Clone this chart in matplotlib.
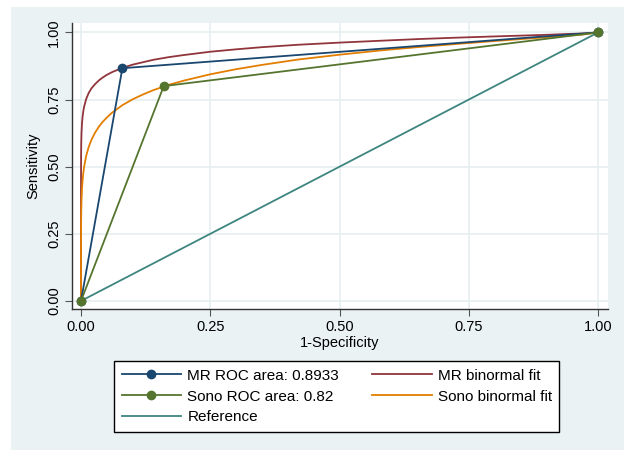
import matplotlib
matplotlib.use("Agg")
import matplotlib.pyplot as plt
from matplotlib.patches import Rectangle

plt.rcParams["font.family"] = ["Liberation Sans", "DejaVu Sans"]
plt.rcParams["font.size"] = 10

# empirical ROC points (1-specificity, sensitivity)
mr_fpr = [0.0, 0.08, 1.0]
mr_tpr = [0.0, 0.8667, 1.0]
sono_fpr = [0.0, 0.16, 1.0]
sono_tpr = [0.0, 0.80, 1.0]

# binormal fitted curves
fit_x = [0.0, 1e-7, 1e-5, 0.0002, 0.0005, 0.001, 0.002, 0.003, 0.0045, 0.006, 0.01,
         0.015, 0.02, 0.027, 0.035, 0.042, 0.05, 0.06, 0.08, 0.1, 0.12, 0.14, 0.17,
         0.2, 0.25, 0.3, 0.35, 0.42, 0.5, 0.58, 0.65, 0.72, 0.8, 0.85, 0.9, 0.94,
         0.97, 1.0]
mr_fit_y = [0.0, 0.25, 0.407, 0.543, 0.589, 0.626, 0.663, 0.685, 0.707, 0.723, 0.752,
            0.775, 0.791, 0.807, 0.822, 0.832, 0.842, 0.852, 0.868, 0.880, 0.889, 0.898,
            0.908, 0.916, 0.928, 0.937, 0.945, 0.954, 0.962, 0.969, 0.975, 0.980, 0.985,
            0.988, 0.991, 0.994, 0.996, 1.0]
sono_fit_y = [0.0, 0.069, 0.166, 0.285, 0.333, 0.374, 0.419, 0.447, 0.477, 0.499, 0.540,
              0.574, 0.599, 0.626, 0.650, 0.667, 0.683, 0.701, 0.729, 0.751, 0.769, 0.785,
              0.805, 0.821, 0.844, 0.863, 0.879, 0.899, 0.917, 0.933, 0.945, 0.956, 0.968,
              0.975, 0.982, 0.988, 0.992, 1.0]

ref_x = [0.0, 1.0]
ref_y = [0.0, 1.0]

ticks = [0.0, 0.25, 0.5, 0.75, 1.0]
tick_labels = ["0.00", "0.25", "0.50", "0.75", "1.00"]

navy = "#1A476F"
maroon = "#90353B"
green = "#55752F"
orange = "#E37E00"
teal = "#3E8580"
panel = "#EAF2F3"

fig = plt.figure(figsize=(6.24, 4.5), dpi=100)
fig.patches.append(Rectangle((11 / 624, 0), 1, 1 - 7 / 450, transform=fig.transFigure,
                             facecolor=panel, edgecolor="none", zorder=-10))

ax = fig.add_axes([72 / 624, 1 - 309 / 450, 536 / 624, 286 / 450])
ax.set_facecolor("white")

ax.plot(ref_x, ref_y, color=teal, lw=1.3, label="Reference", zorder=3)
ax.plot(fit_x, mr_fit_y, color=maroon, lw=1.3, label="MR binormal fit", zorder=4)
ax.plot(fit_x, sono_fit_y, color=orange, lw=1.3, label="Sono binormal fit", zorder=4)
ax.plot(mr_fpr, mr_tpr, color=navy, lw=1.3, marker="o", ms=6,
        label="MR ROC area: 0.8933", zorder=5)
ax.plot(sono_fpr, sono_tpr, color=green, lw=1.3, marker="o", ms=6,
        label="Sono ROC area: 0.82", zorder=6)

ax.set_xlim(-0.0174, 1.019)
ax.set_ylim(-0.03, 1.035)
ax.set_xticks(ticks)
ax.set_xticklabels(tick_labels)
ax.set_yticks(ticks)
ax.set_yticklabels(tick_labels, rotation=90, va="center")
ax.grid(True, color="#E6EFF0", lw=1.2)
ax.set_axisbelow(True)
for side in ["top", "right"]:
    ax.spines[side].set_visible(False)
for side in ["left", "bottom"]:
    ax.spines[side].set_color("#333333")
    ax.spines[side].set_linewidth(1.0)
ax.tick_params(direction="out", length=5, color="#555555", labelsize=10.5, pad=3)
ax.set_xlabel("1-Specificity", fontsize=10.5, labelpad=1)
ax.set_ylabel("Sensitivity", fontsize=10.5, labelpad=5)

h, l = ax.get_legend_handles_labels()
order = [3, 4, 0, 1, 2]
leg = fig.legend([h[i] for i in order], [l[i] for i in order], ncol=2,
                 loc="upper left", bbox_to_anchor=(114 / 624, 1 - 361 / 450),
                 borderaxespad=0, frameon=True, fancybox=False,
                 handlelength=3.9, handletextpad=0.4, columnspacing=2.15,
                 labelspacing=0.45, borderpad=0.5, fontsize=11)
leg.get_frame().set_edgecolor("black")
leg.get_frame().set_linewidth(1.0)
leg.get_frame().set_facecolor("white")
leg.get_frame().set_alpha(1)

fig.savefig("out.png", dpi=100)
